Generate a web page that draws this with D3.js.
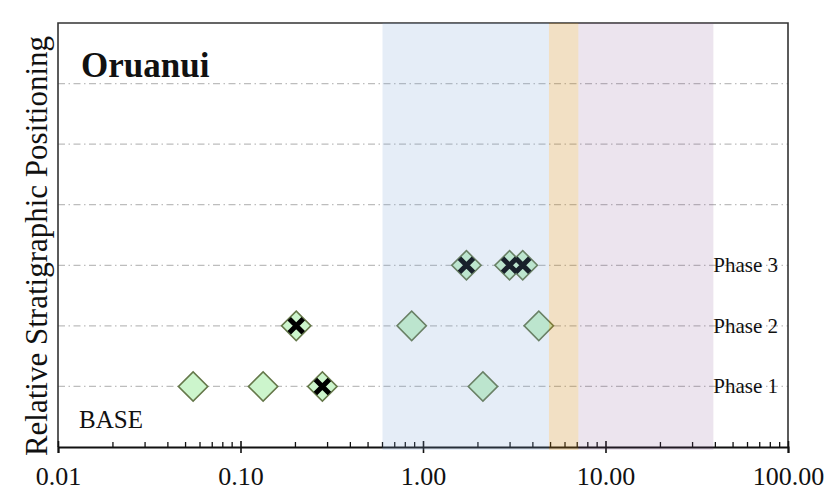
<!DOCTYPE html>
<html>
<head>
<meta charset="utf-8">
<script src="https://cdn.jsdelivr.net/npm/d3@7"></script>
<style>
  html, body { margin: 0; padding: 0; background: #fff; }
  svg { display: block; }
  text { font-family: "Liberation Serif", "Times New Roman", serif; fill: #111; }
</style>
</head>
<body>
<svg id="chart" width="833" height="497"></svg>
<script>
// Oruanui samples: value on a log axis, stratigraphic row, crossed or plain marker
const sampleValues = [0.055, 0.133, 0.281, 2.13, 0.202, 0.867, 4.31, 1.73, 2.98, 3.52];
const sampleRows   = [1, 1, 1, 1, 2, 2, 2, 3, 3, 3];
const sampleCrossed = [false, false, true, false, true, false, false, true, true, true];

// Row labels on the right-hand side
const phaseLabels = ["Phase 1", "Phase 2", "Phase 3"];
const phaseRows = [1, 2, 3];

// Shaded ranges along the value axis
const bandStart = [0.6, 4.9, 7.1];
const bandEnd   = [4.9, 7.1, 39];
const bandColor = ["#7fa5d6", "#cb8313", "#7f4c8f"];
const bandAlpha = [0.2, 0.25, 0.15];

// Axis ticks
const majorTicks = [0.01, 0.1, 1, 10, 100];
const gridRows = [1, 2, 3, 4, 5, 6];

const svg = d3.select("#chart");
const plotL = 58, plotR = 788, plotT = 23, plotB = 447;

const x = d3.scaleLog().domain([0.01, 100]).range([plotL, plotR]);
const y = d3.scaleLinear().domain([0, 7]).range([plotB, plotT]);

// Dash-dot gridlines
svg.append("g").selectAll("line").data(gridRows).join("line")
  .attr("x1", plotL).attr("x2", plotR)
  .attr("y1", d => y(d)).attr("y2", d => y(d))
  .attr("stroke", "#bdbdbd").attr("stroke-width", 1.3)
  .attr("stroke-dasharray", "7,3.5,1.5,3.5");

// Frame (top, left, right)
svg.append("path")
  .attr("d", `M${plotL},${plotB}V${plotT}H${plotR}V${plotB}`)
  .attr("fill", "none").attr("stroke", "#333").attr("stroke-width", 1.6);

// Bottom axis with major ticks and labels
const axis = d3.axisBottom(x)
  .tickValues(majorTicks)
  .tickFormat(d3.format(".2f"))
  .tickSize(6)
  .tickPadding(14);
const gAxis = svg.append("g").attr("transform", `translate(0,${plotB})`).call(axis);
gAxis.attr("font-family", null);
gAxis.select(".domain").attr("stroke", "#111").attr("stroke-width", 2);
gAxis.selectAll(".tick line").attr("y1", -6).attr("y2", 6).attr("stroke", "#111").attr("stroke-width", 1.6);
gAxis.selectAll(".tick text")
  .attr("font-size", 26).attr("fill", "#111")
  .attr("dy", "0.71em");

// Minor ticks pointing up inside the plot
const minorTicks = x.ticks().filter(v => !majorTicks.some(m => Math.abs(m - v) / m < 1e-9));
svg.append("g").selectAll("line").data(minorTicks).join("line")
  .attr("x1", d => x(d)).attr("x2", d => x(d))
  .attr("y1", plotB).attr("y2", plotB - 5)
  .attr("stroke", "#111").attr("stroke-width", 1.3);

// Sample markers: diamonds first, then the bold crosses on top
const samples = sampleValues.map((v, i) => ({ v, row: sampleRows[i], crossed: sampleCrossed[i] }));
const diamond = d3.symbol().type(d3.symbolSquare).size(430);
svg.append("g").selectAll("path").data(samples).join("path")
  .attr("d", diamond())
  .attr("transform", d => `translate(${x(d.v)},${y(d.row)}) rotate(45)`)
  .attr("fill", "#ccf5cc")
  .attr("stroke", "#65784a").attr("stroke-width", 1.6);
svg.append("g").selectAll("path").data(samples.filter(d => d.crossed)).join("path")
  .attr("transform", d => `translate(${x(d.v)},${y(d.row)})`)
  .attr("d", "M-7,-7L7,7M-7,7L7,-7")
  .attr("stroke", "#000").attr("stroke-width", 5).attr("fill", "none");

// Translucent shaded ranges laid over the plot
svg.append("g").selectAll("rect").data(bandStart).join("rect")
  .attr("x", (d) => x(d))
  .attr("width", (d, i) => x(bandEnd[i]) - x(d))
  .attr("y", plotT)
  .attr("height", plotB + 3 - plotT)
  .attr("fill", (d, i) => bandColor[i])
  .attr("fill-opacity", (d, i) => bandAlpha[i]);

// Row labels
svg.append("g").selectAll("text").data(phaseLabels).join("text")
  .attr("x", 778)
  .attr("y", (d, i) => y(phaseRows[i]) + 7)
  .attr("text-anchor", "end")
  .attr("font-size", 21)
  .text(d => d);

// Title, base marker and y-axis label
svg.append("text").attr("x", 81).attr("y", 77)
  .attr("font-size", 35).attr("font-weight", "bold").text("Oruanui");
svg.append("text").attr("x", 79).attr("y", 428)
  .attr("font-size", 25).text("BASE");
svg.append("text")
  .attr("transform", "translate(47,246) rotate(-90)")
  .attr("text-anchor", "middle")
  .attr("font-size", 31)
  .text("Relative Stratigraphic Positioning");
</script>
</body>
</html>
